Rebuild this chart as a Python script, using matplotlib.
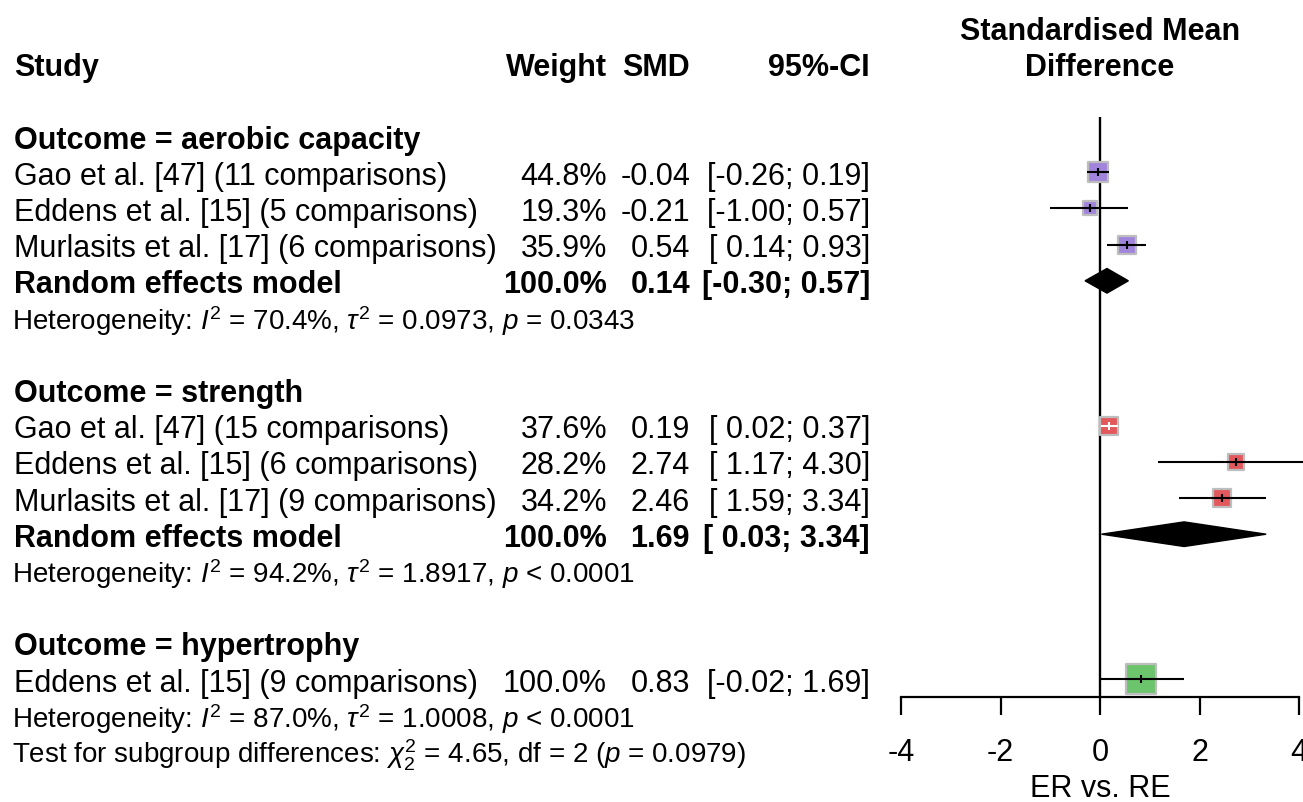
import numpy as np
import matplotlib
matplotlib.use("Agg")
import matplotlib.pyplot as plt
from matplotlib.patches import Polygon

plt.rcParams['font.family'] = ['Liberation Sans', 'DejaVu Sans']
plt.rcParams['mathtext.fontset'] = 'custom'
plt.rcParams['mathtext.rm'] = 'Liberation Sans'
plt.rcParams['mathtext.it'] = 'Liberation Sans:italic'
plt.rcParams['mathtext.bf'] = 'Liberation Sans:bold'

# subgroups: outcome name, studies, weights, SMD, CI, pooled estimate, heterogeneity
outcomes = ["aerobic capacity", "strength", "hypertrophy"]

aer_study = ["Gao et al. [47] (11 comparisons)", "Eddens et al. [15] (5 comparisons)",
             "Murlasits et al. [17] (6 comparisons)"]
aer_w = [44.8, 19.3, 35.9]
aer_smd = [-0.04, -0.21, 0.54]
aer_lo = [-0.26, -1.00, 0.14]
aer_hi = [0.19, 0.57, 0.93]
aer_pool = (0.14, -0.30, 0.57)
aer_het = r"Heterogeneity: $I^2$ = 70.4%, $\tau^2$ = 0.0973, $p$ = 0.0343"

str_study = ["Gao et al. [47] (15 comparisons)", "Eddens et al. [15] (6 comparisons)",
             "Murlasits et al. [17] (9 comparisons)"]
str_w = [37.6, 28.2, 34.2]
str_smd = [0.19, 2.74, 2.46]
str_lo = [0.02, 1.17, 1.59]
str_hi = [0.37, 4.30, 3.34]
str_pool = (1.69, 0.03, 3.34)
str_het = r"Heterogeneity: $I^2$ = 94.2%, $\tau^2$ = 1.8917, $p$ < 0.0001"

hyp_study = ["Eddens et al. [15] (9 comparisons)"]
hyp_w = [100.0]
hyp_smd = [0.83]
hyp_lo = [-0.02]
hyp_hi = [1.69]
hyp_het = r"Heterogeneity: $I^2$ = 87.0%, $\tau^2$ = 1.0008, $p$ < 0.0001"

subgroup_test = r"Test for subgroup differences: $\chi^2_2$ = 4.65, df = 2 ($p$ = 0.0979)"

xticks = [-4, -2, 0, 2, 4]

groups = [
    (outcomes[0], aer_study, aer_w, aer_smd, aer_lo, aer_hi, aer_pool, aer_het, "#a184dc"),
    (outcomes[1], str_study, str_w, str_smd, str_lo, str_hi, str_pool, str_het, "#e3585d"),
    (outcomes[2], hyp_study, hyp_w, hyp_smd, hyp_lo, hyp_hi, None, hyp_het, "#6cc46c"),
]

W, H, DPI = 1303, 803, 100
fig = plt.figure(figsize=(W / DPI, H / DPI), dpi=DPI)

ROW_PX = 36.2
ylim = (2 + (H - 137) / ROW_PX, 2 - 137 / ROW_PX)

tx = fig.add_axes([0, 0, 1, 1])
tx.set_xlim(0, W)
tx.set_ylim(*ylim)
tx.axis("off")

FS = 22
FS_SMALL = 20
BASE = 0.32

x0, x1 = 901, 1299
ax = fig.add_axes([x0 / W, 0, (x1 - x0) / W, 1], sharey=tx)
ax.set_xlim(-4, 4)
ax.patch.set_visible(False)
for s in ("top", "right", "left"):
    ax.spines[s].set_visible(False)
ax.spines["bottom"].set_position(("data", 17.5))
ax.spines["bottom"].set_bounds(-4, 4)
ax.spines["bottom"].set_linewidth(1.6)
ax.set_xticks(xticks)
ax.set_xticklabels([str(t) for t in xticks])
ax.tick_params(axis="x", direction="out", length=13, width=1.6, labelsize=FS, pad=16)
ax.tick_params(axis="y", left=False, labelleft=False)
ax.set_xlabel("ER vs. RE", fontsize=FS, labelpad=4)

X_STUDY, X_W, X_SMD, X_CI = 14, 607, 690, 870
px_per_unit = (x1 - x0) / 8.0


def row_text(r, study, w, smd, lo, hi, bold=False):
    fw = "bold" if bold else "normal"
    tx.text(X_STUDY, r + BASE, study, fontsize=FS, fontweight=fw, va="baseline")
    tx.text(X_W, r + BASE, f"{w:.1f}%", fontsize=FS, fontweight=fw, va="baseline", ha="right")
    tx.text(X_SMD, r + BASE, f"{smd:.2f}", fontsize=FS, fontweight=fw, va="baseline", ha="right")
    tx.text(X_CI, r + BASE, f"[{lo:5.2f}; {hi:4.2f}]", fontsize=FS, fontweight=fw,
            va="baseline", ha="right")


# column headers
tx.text(X_STUDY, 0 + BASE, "Study", fontsize=FS, fontweight="bold", va="baseline")
tx.text(X_W, 0 + BASE, "Weight", fontsize=FS, fontweight="bold", va="baseline", ha="right")
tx.text(X_SMD, 0 + BASE, "SMD", fontsize=FS, fontweight="bold", va="baseline", ha="right")
tx.text(X_CI, 0 + BASE, "95%-CI", fontsize=FS, fontweight="bold", va="baseline", ha="right")
tx.text(1100, -1 + BASE, "Standardised Mean", fontsize=FS, fontweight="bold", va="baseline", ha="center")
tx.text(1100, 0 + BASE, "Difference", fontsize=FS, fontweight="bold", va="baseline", ha="center")

# reference line at zero
ax.plot([0, 0], [2 - 0.53, 17.5], color="black", lw=1.7, zorder=1, solid_capstyle="butt")

r = 2
for name, studies, ws, smds, los, his, pool, het, col in groups:
    tx.text(X_STUDY, r + BASE, f"Outcome = {name}", fontsize=FS, fontweight="bold", va="baseline")
    r += 1
    for st, w, m, lo, hi in zip(studies, ws, smds, los, his):
        row_text(r, st, w, m, lo, hi)
        side_px = 3.0 * np.sqrt(w)
        ax.scatter([m], [r], marker="s", s=(side_px * 72 / DPI) ** 2, color=col,
                   edgecolor="#bdbdbd", linewidth=1.6, zorder=2)
        inside = (hi - lo) * px_per_unit < side_px
        lc = "white" if inside else "black"
        ax.plot([lo, hi], [r, r], color=lc, lw=1.5, zorder=3, clip_on=False,
                solid_capstyle="butt")
        ax.plot([m, m], [r - 0.11, r + 0.11], color=lc, lw=1.5, zorder=3,
                solid_capstyle="butt")
        r += 1
    if pool is not None:
        est, plo, phi = pool
        row_text(r, "Random effects model", 100.0, est, plo, phi, bold=True)
        dh = 0.34
        ax.add_patch(Polygon([[plo, r], [est, r - dh], [phi, r], [est, r + dh]],
                             closed=True, color="black", zorder=3))
        r += 1
    tx.text(12, r + BASE, het, fontsize=FS_SMALL, va="baseline")
    r += 2

tx.text(12, 19 + BASE, subgroup_test, fontsize=FS_SMALL, va="baseline")

fig.savefig("out.png", dpi=DPI)
